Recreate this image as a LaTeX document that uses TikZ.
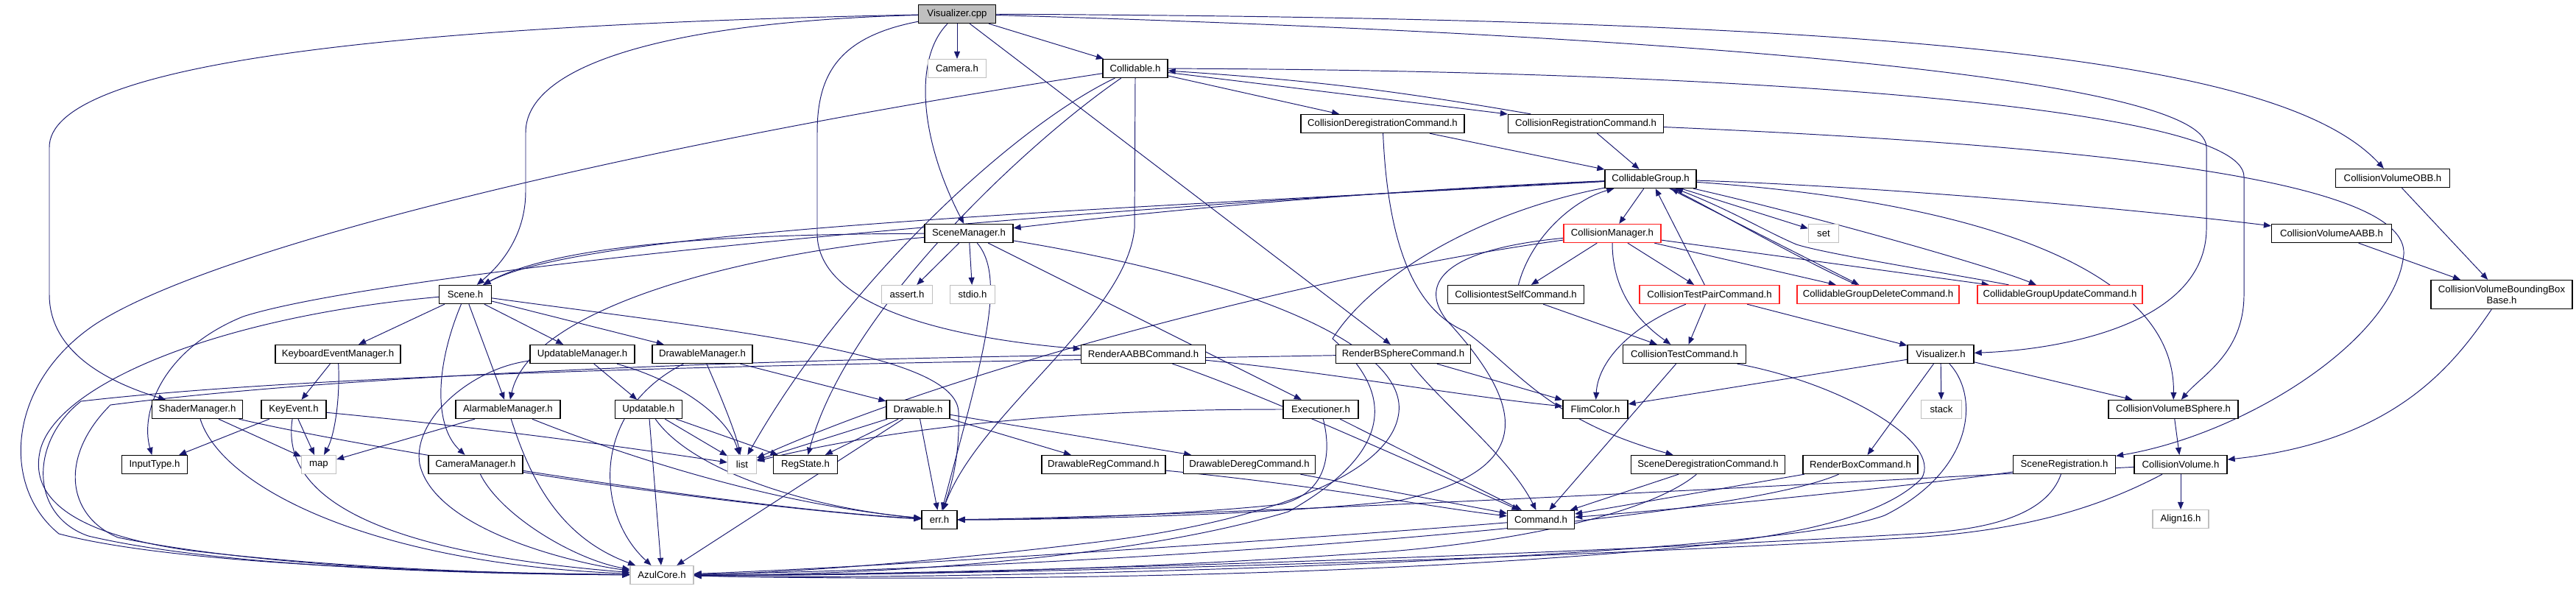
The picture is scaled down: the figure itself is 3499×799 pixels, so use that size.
\documentclass[tikz,border=0pt]{standalone}
\usepackage{fontspec}
\setmainfont{Liberation Sans}
\usetikzlibrary{arrows.meta,backgrounds}
\definecolor{eb}{HTML}{191970}
\definecolor{gr}{HTML}{BFBFBF}
\definecolor{rd}{HTML}{FF2020}
\tikzset{
  nd/.style={draw=black, line width=0.75pt, fill=white, minimum height=5mm, inner sep=0pt, font=\fontsize{7.5pt}{8.6pt}\selectfont},
  sysn/.style={nd, draw=gr},
  redn/.style={nd, draw=rd},
  bw/.style={minimum width=#1*0.2mm},
  dep/.style={draw=eb, line width=0.55pt, -{Triangle[length=2mm,width=1.6mm]}}
}
\begin{document}
\begin{tikzpicture}[x=0.2mm,y=-0.2mm]
\useasboundingbox (0,0) rectangle (3499,799);
% nodes
\node[nd,bw=105,fill=gr] (vcpp) at (1300,19) {Visualizer.cpp};
\node[sysn,bw=79] (camera) at (1300,93) {Camera.h};
\node[nd,bw=88] (collidable) at (1542,93) {Collidable.h};
\node[nd,bw=222] (cdc) at (1878,168) {CollisionDeregistrationCommand.h};
\node[nd,bw=211] (crc) at (2154,168) {CollisionRegistrationCommand.h};
\node[nd,bw=124] (cg) at (2242,243) {CollidableGroup.h};
\node[nd,bw=155] (obb) at (3250,242) {CollisionVolumeOBB.h};
\node[nd,bw=120] (scenemgr) at (1316,317) {SceneManager.h};
\node[redn,bw=132] (colmgr) at (2190,317) {CollisionManager.h};
\node[sysn,bw=41] (nset) at (2477,317) {set};
\node[nd,bw=163] (aabb) at (3167,317) {CollisionVolumeAABB.h};
\node[nd,bw=71] (scene) at (632,400) {Scene.h};
\node[sysn,bw=69] (nassert) at (1232,400) {assert.h};
\node[sysn,bw=61] (nstdio) at (1321,400) {stdio.h};
\node[nd,bw=185] (cself) at (2059,400) {CollisiontestSelfCommand.h};
\node[redn,bw=190] (cpair) at (2322,400) {CollisionTestPairCommand.h};
\node[redn,bw=220] (cgdel) at (2551,400) {CollidableGroupDeleteCommand.h};
\node[redn,bw=224] (cgupd) at (2798,400) {CollidableGroupUpdateCommand.h};
\node[nd,bw=192,minimum height=39*0.2mm,align=center] (bbb) at (3398,400) {CollisionVolumeBoundingBox\\Base.h};
\node[nd,bw=170] (kem) at (459,481) {KeyboardEventManager.h};
\node[nd,bw=142] (updmgr) at (791,481) {UpdatableManager.h};
\node[nd,bw=136] (drwmgr) at (954,481) {DrawableManager.h};
\node[nd,bw=169] (raabb) at (1553,481) {RenderAABBCommand.h};
\node[nd,bw=183] (rbs) at (1906,481) {RenderBSphereCommand.h};
\node[nd,bw=167] (ctc) at (2288,481) {CollisionTestCommand.h};
\node[nd,bw=90] (vish) at (2636,481) {Visualizer.h};
\node[nd,bw=123] (shader) at (268,556) {ShaderManager.h};
\node[nd,bw=88] (keyev) at (399,556) {KeyEvent.h};
\node[nd,bw=142] (alarm) at (690,556) {AlarmableManager.h};
\node[nd,bw=91] (upd) at (881,556) {Updatable.h};
\node[nd,bw=86] (drw) at (1247,556) {Drawable.h};
\node[nd,bw=102] (exec) at (1794,556) {Executioner.h};
\node[nd,bw=88] (flim) at (2167,556) {FlimColor.h};
\node[sysn,bw=55] (nstack) at (2637,556) {stack};
\node[nd,bw=176] (bsph) at (2952,556) {CollisionVolumeBSphere.h};
\node[nd,bw=89] (ninput) at (210,631) {InputType.h};
\node[sysn,bw=47] (nmap) at (433,631) {map};
\node[nd,bw=128] (cammgr) at (646,631) {CameraManager.h};
\node[sysn,bw=39] (nlist) at (1008,631) {list};
\node[nd,bw=87] (regst) at (1094,631) {RegState.h};
\node[nd,bw=168] (dreg) at (1499,631) {DrawableRegCommand.h};
\node[nd,bw=179] (dder) at (1697,631) {DrawableDeregCommand.h};
\node[nd,bw=209] (sdc) at (2320,631) {SceneDeregistrationCommand.h};
\node[nd,bw=156] (rbox) at (2527,631) {RenderBoxCommand.h};
\node[nd,bw=139] (sreg) at (2804,631) {SceneRegistration.h};
\node[nd,bw=126] (cvol) at (2962,631) {CollisionVolume.h};
\node[nd,bw=48] (err) at (1276,706) {err.h};
\node[nd,bw=91] (cmd) at (2093,706) {Command.h};
\node[sysn,bw=76] (align) at (2962,705) {Align16.h};
\node[sysn,bw=86] (azul) at (899,781) {AzulCore.h};

\begin{pgfonlayer}{background}
\fill[white] (0,0) rectangle (3499,799);
% Visualizer.cpp
\draw[dep] (vcpp) -- (camera);
\draw[dep] (vcpp) -- (collidable);
\draw[dep] (vcpp) .. controls (1240,80) and (1250,190) .. (scenemgr);
\draw[dep] (vcpp) .. controls (500,35) and (67,90) .. (67,200) -- (67,400) .. controls (67,480) and (150,520) .. (shader);
\draw[dep] (vcpp) .. controls (900,30) and (714,90) .. (714,180) -- (714,260) .. controls (714,320) and (680,360) .. (scene);
\draw[dep] (vcpp) .. controls (1140,50) and (1110,100) .. (1110,180) -- (1110,317) .. controls (1110,420) and (1300,460) .. (raabb);
\draw[dep] (vcpp) -- (rbs);
\draw[dep] (vcpp) .. controls (2200,45) and (2997,100) .. (2997,200) -- (2997,310) .. controls (2997,440) and (2800,475) .. (vish);
\draw[dep] (vcpp) .. controls (2600,25) and (3100,80) .. (obb);
% Collidable
\draw[dep] (collidable) -- (cdc);
\draw[dep] (collidable) -- (crc);
\draw[dep] (crc) to[bend right=3] (collidable);
\draw[dep] (collidable) .. controls (2300,95) and (3048,140) .. (3048,240) -- (3048,400) .. controls (3048,480) and (2990,510) .. (bsph);
\draw[dep] (collidable) .. controls (900,190) and (300,330) .. (130,440) .. controls (10,520) and (0,660) .. (80,725) .. controls (250,770) and (650,778) .. (azul);
\draw[dep] (collidable) .. controls (1380,170) and (1150,380) .. (nlist);
\draw[dep] (collidable) .. controls (1400,190) and (1150,420) .. (regst);
\draw[dep] (collidable.south) -- (1541,310) .. controls (1530,430) and (1330,560) .. (err);
% CRC / CDC
\draw[dep] (crc) -- (cg);
\draw[dep] (crc) .. controls (2900,200) and (3270,250) .. (3265,345) .. controls (3255,460) and (3050,590) .. (sreg);
\draw[dep] (cdc) -- (cg);
\draw[dep] (cdc) .. controls (1885,330) and (1920,420) .. (1990,450) .. controls (2060,500) and (2100,570) .. (sdc);
% CollidableGroup
\draw[dep] (cg) -- (colmgr);
\draw[dep] (cg) -- (nset);
\draw[dep] (cg) -- (cgdel);
\draw[dep] (cgdel) .. controls (2440,350) and (2320,280) .. (cg);
\draw[dep] (cg) .. controls (2450,290) and (2700,360) .. (cgupd);
\draw[dep] (cgupd) .. controls (2650,372) and (2480,345) .. (2440,332) .. controls (2400,315) and (2350,285) .. (cg);
\draw[dep] (cg) .. controls (2600,255) and (2950,290) .. (aabb);
\draw[dep] (cg) .. controls (2700,275) and (2955,370) .. (bsph);
\draw[dep] (cg) .. controls (1800,262) and (1500,295) .. (scenemgr);
\draw[dep] (cg) .. controls (1300,290) and (500,375) .. (330,430) .. controls (220,475) and (190,560) .. (ninput);
\draw[dep] (cg) .. controls (1500,285) and (800,310) .. (scene);
\draw[dep] (cg) .. controls (2000,290) and (1860,380) .. (1810,460) .. controls (1890,530) and (1900,610) .. (1750,695) .. controls (1500,770) and (1100,782) .. (azul);
% CollisionManager
\draw[dep] (colmgr) -- (cself);
\draw[dep] (colmgr) -- (cpair);
\draw[dep] (colmgr) .. controls (2190,400) and (2230,440) .. (ctc);
\draw[dep] (colmgr) -- (cgdel);
\draw[dep] (colmgr) -- (cgupd);
\draw[dep] (colmgr) .. controls (1800,370) and (1300,500) .. (nlist);
\draw[dep] (colmgr) .. controls (1950,340) and (1930,390) .. (1965,435) .. controls (2080,560) and (2080,640) .. (1900,680) .. controls (1700,702) and (1400,706) .. (err);
% test commands
\draw[dep] (cself) .. controls (2080,320) and (2140,270) .. (cg);
\draw[dep] (cself) -- (ctc);
\draw[dep] (cpair) -- (cg);
\draw[dep] (cpair) -- (ctc);
\draw[dep] (cpair) .. controls (2200,450) and (2170,500) .. (flim);
\draw[dep] (cpair) -- (vish);
\draw[dep] (ctc) -- (cmd);
\draw[dep] (ctc) .. controls (2500,520) and (2640,600) .. (2610,650) .. controls (2560,700) and (2450,725) .. (2300,742) .. controls (1800,790) and (1200,788) .. (azul);
% Visualizer.h
\draw[dep] (vish) -- (flim);
\draw[dep] (vish) -- (nstack);
\draw[dep] (vish) -- (rbox);
\draw[dep] (vish) -- (bsph);
\draw[dep] (vish) .. controls (2690,540) and (2680,640) .. (2560,700) .. controls (2400,760) and (1300,790) .. (azul);
% Render commands
\draw[dep] (rbs) -- (flim);
\draw[dep] (rbs) .. controls (1960,550) and (2050,620) .. (cmd);
\draw[dep] (rbs) .. controls (1300,492) and (500,500) .. (110,545) .. controls (40,600) and (40,700) .. (120,728) .. controls (320,775) and (700,780) .. (azul);
\draw[dep] (raabb) .. controls (1800,505) and (2000,540) .. (flim);
\draw[dep] (raabb) .. controls (1700,530) and (1900,620) .. (cmd);
\draw[dep] (raabb) .. controls (1100,488) and (500,505) .. (150,550) .. controls (80,620) and (90,700) .. (160,730) .. controls (380,775) and (700,780) .. (azul);
% Executioner
\draw[dep] (exec) .. controls (1600,556) and (1300,560) .. (nlist);
\draw[dep] (exec) -- (cmd);
\draw[dep] (exec) .. controls (1810,620) and (1800,670) .. (1740,685) .. controls (1600,700) and (1400,706) .. (err);
% Drawable
\draw[dep] (drw) -- (nlist);
\draw[dep] (drw) -- (regst);
\draw[dep] (drw) -- (err);
\draw[dep] (drw) -- (azul);
\draw[dep] (drw) -- (dreg);
\draw[dep] (drw) -- (dder);
\draw[dep] (drwmgr) -- (drw);
\draw[dep] (drwmgr) .. controls (980,540) and (1000,590) .. (nlist);
\draw[dep] (drwmgr) .. controls (800,560) and (810,700) .. (azul);
% Updatable
\draw[dep] (updmgr) -- (upd);
\draw[dep] (updmgr) .. controls (930,520) and (990,570) .. (nlist);
\draw[dep] (updmgr) .. controls (640,500) and (560,570) .. (570,630) .. controls (590,720) and (780,765) .. (azul);
\draw[dep] (upd) -- (nlist);
\draw[dep] (upd) -- (regst);
\draw[dep] (upd) -- (azul);
\draw[dep] (upd) .. controls (940,640) and (1100,690) .. (err);
% Alarmable
\draw[dep] (alarm) -- (nmap);
\draw[dep] (alarm) .. controls (850,620) and (1050,685) .. (err);
\draw[dep] (alarm) .. controls (720,650) and (760,730) .. (azul);
% Scene
\draw[dep] (scene) -- (kem);
\draw[dep] (scene) -- (updmgr);
\draw[dep] (scene) -- (drwmgr);
\draw[dep] (scene) -- (alarm);
\draw[dep] (scene) .. controls (590,500) and (590,580) .. (cammgr);
\draw[dep] (scene) .. controls (1000,450) and (1300,480) .. (1302,560) .. controls (1304,620) and (1292,660) .. (err);
\draw[dep] (scene) .. controls (300,430) and (80,520) .. (55,610) .. controls (35,690) and (130,730) .. (260,748) .. controls (500,776) and (750,780) .. (azul);
% SceneManager
\draw[dep] (scenemgr) .. controls (1000,318) and (760,330) .. (scene);
\draw[dep] (scenemgr) .. controls (1000,345) and (720,420) .. (alarm);
\draw[dep] (scenemgr) -- (nassert);
\draw[dep] (scenemgr) -- (nstdio);
\draw[dep] (scenemgr) .. controls (1370,380) and (1330,500) .. (err);
\draw[dep] (scenemgr) -- (exec);
\draw[dep] (scenemgr) .. controls (1700,380) and (1910,470) .. (1900,560) .. controls (1890,650) and (1700,710) .. (1500,735) .. controls (1200,772) and (1000,780) .. (azul);
% keyboard / shader / camera
\draw[dep] (kem) -- (keyev);
\draw[dep] (kem) .. controls (462,540) and (455,590) .. (nmap);
\draw[dep] (keyev) -- (ninput);
\draw[dep] (keyev) -- (nmap);
\draw[dep] (keyev) .. controls (700,585) and (900,615) .. (nlist);
\draw[dep] (keyev) .. controls (385,650) and (450,745) .. (azul);
\draw[dep] (shader) -- (nmap);
\draw[dep] (shader) .. controls (300,660) and (500,765) .. (azul);
\draw[dep] (shader) .. controls (500,610) and (1000,690) .. (err);
\draw[dep] (cammgr) .. controls (900,672) and (1150,700) .. (err);
\draw[dep] (cammgr) .. controls (680,700) and (780,760) .. (azul);
% commands bottom
\draw[dep] (dreg) .. controls (1800,660) and (1950,690) .. (cmd);
\draw[dep] (dder) -- (cmd);
\draw[dep] (sdc) -- (cmd);
\draw[dep] (sdc) .. controls (2250,690) and (2100,730) .. (1900,748) .. controls (1500,778) and (1100,782) .. (azul);
\draw[dep] (rbox) -- (cmd);
\draw[dep] (rbox) .. controls (2350,710) and (1500,770) .. (azul);
\draw[dep] (sreg) .. controls (2600,660) and (2300,690) .. (cmd);
\draw[dep] (sreg) .. controls (2780,700) and (2700,720) .. (2600,725) .. controls (2000,760) and (1200,782) .. (azul);
\draw[dep] (cvol) -- (align);
\draw[dep] (cvol) .. controls (2600,650) and (1700,700) .. (err);
\draw[dep] (cvol) .. controls (2850,690) and (2750,720) .. (2600,730) .. controls (2000,765) and (1200,783) .. (azul);
\draw[dep] (bsph) -- (cvol);
\draw[dep] (bbb) .. controls (3330,500) and (3250,600) .. (cvol);
\draw[dep] (obb) -- (bbb);
\draw[dep] (aabb) -- (bbb);
\draw[dep] (cmd) .. controls (1800,730) and (1200,770) .. (azul);
\end{pgfonlayer}
\end{tikzpicture}
\end{document}
